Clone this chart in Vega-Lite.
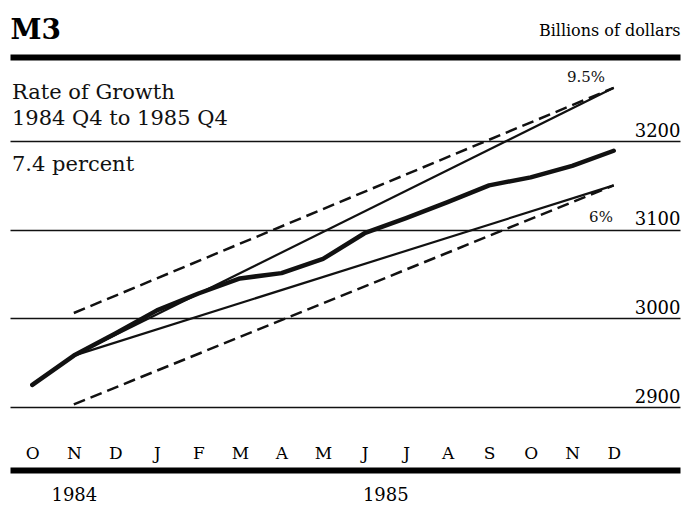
{
  "$schema": "https://vega.github.io/schema/vega-lite/v6.json",
  "width": 670,
  "height": 413,
  "autosize": {"type": "none"},
  "padding": {"left": 10, "right": 4, "top": 57, "bottom": 55},
  "background": "white",
  "config": {
    "view": {"stroke": null},
    "font": "DejaVu Serif",
    "axis": {"labelFont": "DejaVu Serif", "titleFont": "DejaVu Serif", "labelColor": "black", "titleColor": "black"}
  },
  "datasets": {
    "m3": [
      {"m": 0, "v": 2925}, {"m": 1, "v": 2958}, {"m": 2, "v": 2983},
      {"m": 3, "v": 3009}, {"m": 4, "v": 3028}, {"m": 5, "v": 3045},
      {"m": 6, "v": 3051}, {"m": 7, "v": 3067}, {"m": 8, "v": 3096},
      {"m": 9, "v": 3113}, {"m": 10, "v": 3131}, {"m": 11, "v": 3150},
      {"m": 12, "v": 3159}, {"m": 13, "v": 3172}, {"m": 14, "v": 3189}
    ],
    "cone": [
      {"series": "9.5%", "m": 1, "v": 2958}, {"series": "9.5%", "m": 14, "v": 3260},
      {"series": "6%", "m": 1, "v": 2958}, {"series": "6%", "m": 14, "v": 3150}
    ],
    "tunnel": [
      {"series": "upper", "m": 1, "v": 3006}, {"series": "upper", "m": 14, "v": 3260},
      {"series": "lower", "m": 1, "v": 2903}, {"series": "lower", "m": 14, "v": 3150}
    ],
    "notesLeft": [
      {"label": "Rate of Growth", "m": -0.49, "v": 3247.4},
      {"label": "1984 Q4 to 1985 Q4", "m": -0.49, "v": 3218},
      {"label": "7.4 percent", "m": -0.49, "v": 3166}
    ],
    "notesRight": [
      {"label": "9.5%", "m": 13.79, "v": 3266.5},
      {"label": "6%", "m": 13.98, "v": 3109}
    ]
  },
  "resolve": {"axis": {"x": "independent"}},
  "layer": [
    {
      "data": {"name": "cone"},
      "mark": {"type": "line", "color": "#111", "strokeWidth": 2.2},
      "encoding": {
        "x": {
          "field": "m", "type": "quantitative",
          "scale": {"domain": [-0.537, 15.596], "nice": false, "zero": false},
          "axis": {
            "orient": "top", "domain": true, "domainWidth": 6, "domainColor": "black",
            "ticks": false, "labels": false, "grid": false,
            "title": "Billions of dollars", "titleAnchor": "end", "titleAlign": "right",
            "titleBaseline": "alphabetic", "titlePadding": 22, "titleFontSize": 16,
            "titleFontWeight": "normal"
          }
        },
        "y": {
          "field": "v", "type": "quantitative",
          "scale": {"domain": [2828.95, 3294.74], "nice": false, "zero": false},
          "axis": {
            "orient": "right", "values": [2900, 3000, 3100, 3200], "format": "d",
            "grid": true, "gridColor": "#111", "gridWidth": 1.5,
            "domain": false, "ticks": false, "tickSize": 0,
            "labelAlign": "right", "labelBaseline": "alphabetic", "labelPadding": 0,
            "labelOffset": -5, "labelFontSize": 18, "labelOverlap": false,
            "labelBound": false, "labelFlush": false, "title": null
          }
        },
        "detail": {"field": "series"}
      }
    },
    {
      "data": {"name": "tunnel"},
      "mark": {"type": "line", "color": "#111", "strokeWidth": 2.5, "strokeDash": [12, 6]},
      "encoding": {
        "x": {
          "field": "m", "type": "quantitative",
          "axis": {
            "orient": "bottom", "values": [0,1,2,3,4,5,6,7,8,9,10,11,12,13,14],
            "labelExpr": "['O','N','D','J','F','M','A','M','J','J','A','S','O','N','D'][datum.value]",
            "domain": true, "domainWidth": 6, "domainColor": "black",
            "ticks": false, "tickSize": 0, "grid": false,
            "labelPadding": -12, "labelBaseline": "alphabetic", "labelAlign": "center",
            "labelFontSize": 17, "labelOverlap": false, "labelBound": false, "labelFlush": false,
            "title": null
          }
        },
        "y": {
          "field": "v", "type": "quantitative",
          "axis": {
            "orient": "right", "values": [2900, 3000, 3100, 3200], "format": "d",
            "grid": true, "gridColor": "#111", "gridWidth": 1.5,
            "domain": false, "ticks": false, "tickSize": 0,
            "labelAlign": "right", "labelBaseline": "alphabetic", "labelPadding": 0,
            "labelOffset": -5, "labelFontSize": 18, "labelOverlap": false,
            "labelBound": false, "labelFlush": false, "title": null
          }
        },
        "detail": {"field": "series"}
      }
    },
    {
      "data": {"name": "m3"},
      "mark": {"type": "line", "color": "#111", "strokeWidth": 4.5, "strokeCap": "round", "strokeJoin": "round"},
      "encoding": {
        "x": {
          "field": "m", "type": "quantitative",
          "axis": {
            "orient": "bottom", "values": [1, 8.5],
            "labelExpr": "datum.value < 5 ? '1984' : '1985'",
            "domain": false, "ticks": false, "tickSize": 0, "grid": false,
            "labelPadding": 30, "labelBaseline": "alphabetic", "labelAlign": "center",
            "labelFontSize": 18, "labelOverlap": false, "labelBound": false, "labelFlush": false,
            "title": null
          }
        },
        "y": {
          "field": "v", "type": "quantitative",
          "axis": {
            "orient": "right", "values": [2900, 3000, 3100, 3200], "format": "d",
            "grid": true, "gridColor": "#111", "gridWidth": 1.5,
            "domain": false, "ticks": false, "tickSize": 0,
            "labelAlign": "right", "labelBaseline": "alphabetic", "labelPadding": 0,
            "labelOffset": -5, "labelFontSize": 18, "labelOverlap": false,
            "labelBound": false, "labelFlush": false, "title": null
          }
        }
      }
    },
    {
      "data": {"name": "notesLeft"},
      "mark": {"type": "text", "align": "left", "baseline": "alphabetic", "font": "DejaVu Serif", "fontSize": 21, "color": "#111"},
      "encoding": {
        "x": {
          "field": "m", "type": "quantitative",
          "axis": {
            "orient": "top", "domain": false, "ticks": false, "labels": false, "grid": false,
            "title": "M3", "titleAnchor": "start", "titleAlign": "left",
            "titleBaseline": "alphabetic", "titlePadding": 19, "titleFontSize": 28,
            "titleFontWeight": "bold"
          }
        },
        "y": {
          "field": "v", "type": "quantitative",
          "axis": {
            "orient": "right", "values": [2900, 3000, 3100, 3200], "format": "d",
            "grid": true, "gridColor": "#111", "gridWidth": 1.5,
            "domain": false, "ticks": false, "tickSize": 0,
            "labelAlign": "right", "labelBaseline": "alphabetic", "labelPadding": 0,
            "labelOffset": -5, "labelFontSize": 18, "labelOverlap": false,
            "labelBound": false, "labelFlush": false, "title": null
          }
        },
        "text": {"field": "label"}
      }
    },
    {
      "data": {"name": "notesRight"},
      "mark": {"type": "text", "align": "right", "baseline": "alphabetic", "font": "DejaVu Serif", "fontSize": 15, "color": "#111"},
      "encoding": {
        "x": {"field": "m", "type": "quantitative", "axis": null},
        "y": {
          "field": "v", "type": "quantitative",
          "axis": {
            "orient": "right", "values": [2900, 3000, 3100, 3200], "format": "d",
            "grid": true, "gridColor": "#111", "gridWidth": 1.5,
            "domain": false, "ticks": false, "tickSize": 0,
            "labelAlign": "right", "labelBaseline": "alphabetic", "labelPadding": 0,
            "labelOffset": -5, "labelFontSize": 18, "labelOverlap": false,
            "labelBound": false, "labelFlush": false, "title": null
          }
        },
        "text": {"field": "label"}
      }
    }
  ]
}
